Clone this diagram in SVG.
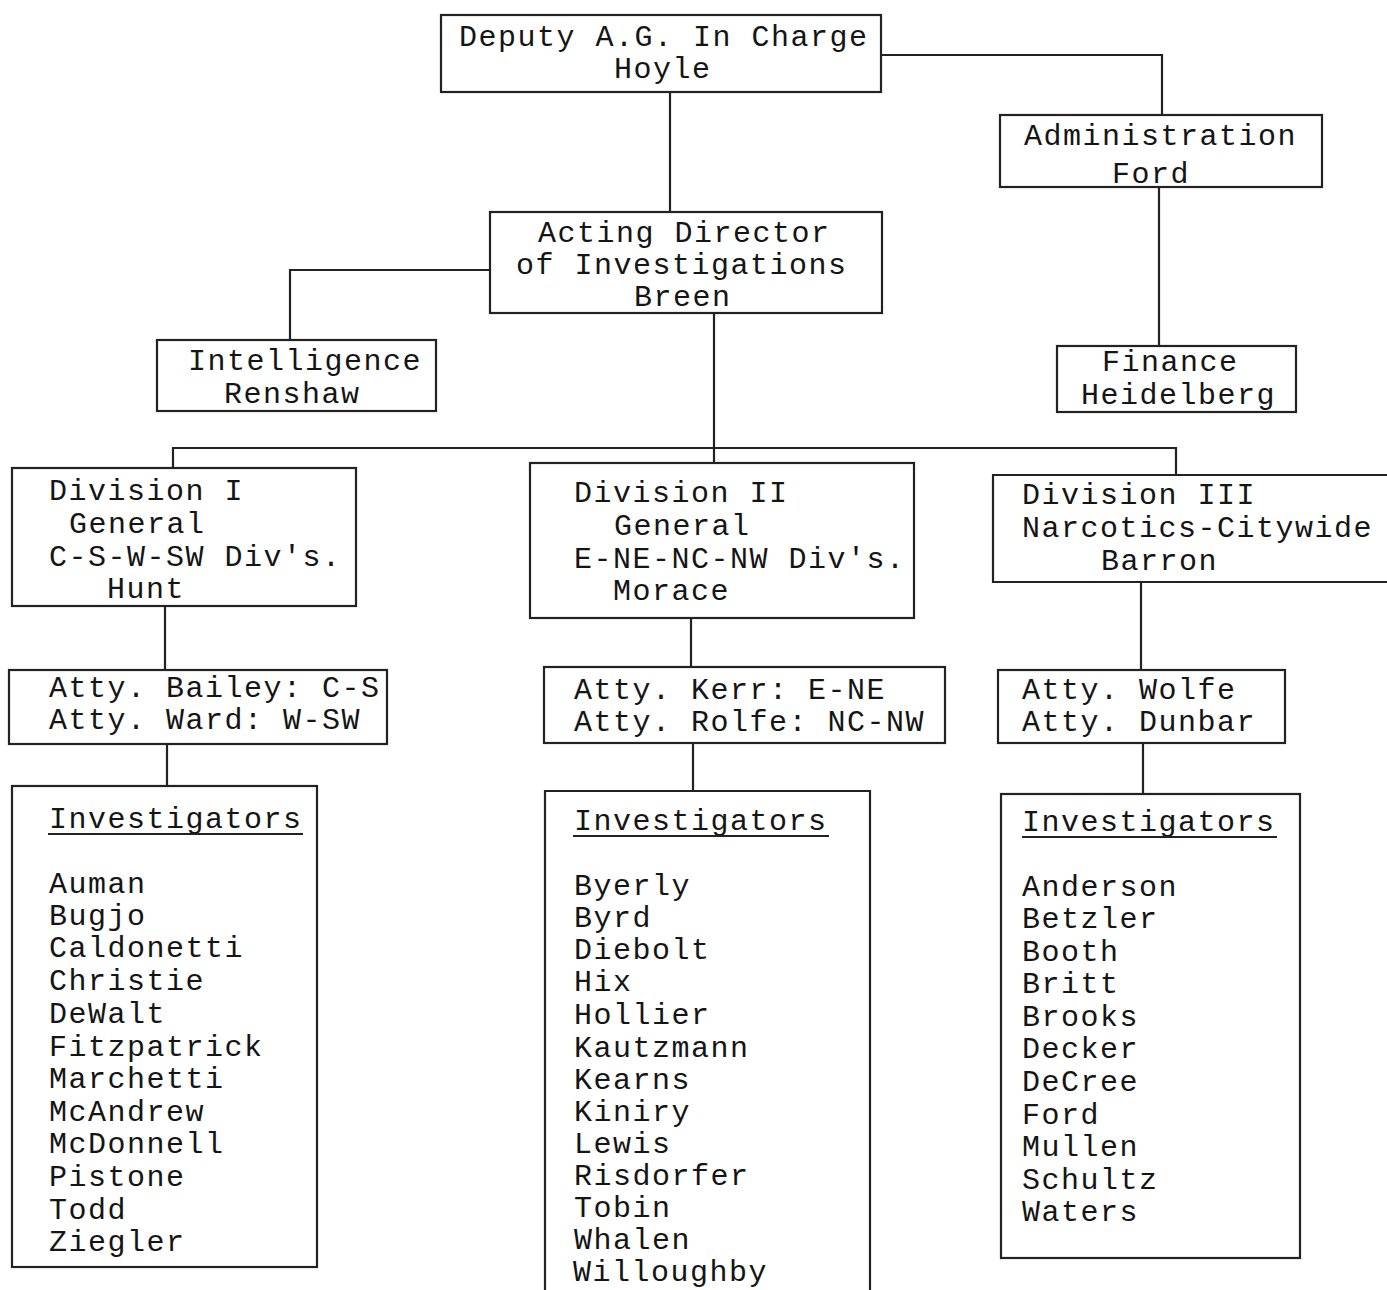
<svg xmlns="http://www.w3.org/2000/svg" width="1387" height="1290" viewBox="0 0 1387 1290">
<style>
  .bg { fill: #ffffff; }
  .box { fill: none; stroke: #222; stroke-width: 2.2; }
  .ln { fill: none; stroke: #222; stroke-width: 2.2; }
  text { font-family: "Liberation Mono", "DejaVu Sans Mono", monospace; font-size: 30px; letter-spacing: 1.5px; fill: #151515; }
</style>
<rect class="bg" x="0" y="0" width="1387" height="1290"/>

<g id="connectors">
  <path class="ln" d="M670 92 V212"/>
  <path class="ln" d="M881 55 H1162 V115"/>
  <path class="ln" d="M1159 187 V346"/>
  <path class="ln" d="M490 270 H290 V340"/>
  <path class="ln" d="M714 313 V463"/>
  <path class="ln" d="M173 468 V448 H1176 V475"/>
  <path class="ln" d="M165 606 V670"/>
  <path class="ln" d="M167 744 V786"/>
  <path class="ln" d="M691 618 V667"/>
  <path class="ln" d="M693 743 V791"/>
  <path class="ln" d="M1141 582 V670"/>
  <path class="ln" d="M1143 743 V794"/>
</g>

<g id="deputy">
  <rect class="box" x="441" y="15" width="440" height="77"/>
  <text x="459" y="46">Deputy A.G. In Charge</text>
  <text x="614" y="78">Hoyle</text>
</g>

<g id="administration">
  <rect class="box" x="1000" y="115" width="322" height="72"/>
  <text x="1024" y="145">Administration</text>
  <text x="1112" y="183">Ford</text>
</g>

<g id="acting-director">
  <rect class="box" x="490" y="212" width="392" height="101"/>
  <text x="538" y="242">Acting Director</text>
  <text x="516" y="274">of Investigations</text>
  <text x="634" y="306">Breen</text>
</g>

<g id="intelligence">
  <rect class="box" x="157" y="340" width="279" height="71"/>
  <text x="188" y="370">Intelligence</text>
  <text x="224" y="403">Renshaw</text>
</g>

<g id="finance">
  <rect class="box" x="1057" y="346" width="239" height="66"/>
  <text x="1102" y="371">Finance</text>
  <text x="1081" y="404">Heidelberg</text>
</g>

<g id="division-1">
  <rect class="box" x="12" y="468" width="344" height="138"/>
  <text x="49" y="500">Division I</text>
  <text x="69" y="533">General</text>
  <text x="49" y="566">C-S-W-SW Div's.</text>
  <text x="107" y="598">Hunt</text>
</g>

<g id="division-2">
  <rect class="box" x="530" y="463" width="384" height="155"/>
  <text x="574" y="502">Division II</text>
  <text x="614" y="535">General</text>
  <text x="574" y="568">E-NE-NC-NW Div's.</text>
  <text x="613" y="600">Morace</text>
</g>

<g id="division-3">
  <path class="box" d="M1387 475 H993 V582 H1387"/>
  <text x="1022" y="504">Division III</text>
  <text x="1022" y="537">Narcotics-Citywide</text>
  <text x="1101" y="570">Barron</text>
</g>

<g id="attorneys-1">
  <rect class="box" x="9" y="670" width="378" height="74"/>
  <text x="49" y="697">Atty. Bailey: C-S</text>
  <text x="49" y="729">Atty. Ward: W-SW</text>
</g>

<g id="attorneys-2">
  <rect class="box" x="544" y="667" width="401" height="76"/>
  <text x="574" y="699">Atty. Kerr: E-NE</text>
  <text x="574" y="731">Atty. Rolfe: NC-NW</text>
</g>

<g id="attorneys-3">
  <rect class="box" x="998" y="670" width="287" height="73"/>
  <text x="1022" y="699">Atty. Wolfe</text>
  <text x="1022" y="731">Atty. Dunbar</text>
</g>

<g id="investigators-1">
  <rect class="box" x="12" y="786" width="305" height="481"/>
  <text x="49" y="828">Investigators</text>
  <path class="ln" d="M48 834 H303"/>
  <text x="49" y="893">Auman</text>
  <text x="49" y="925">Bugjo</text>
  <text x="49" y="957">Caldonetti</text>
  <text x="49" y="990">Christie</text>
  <text x="49" y="1023">DeWalt</text>
  <text x="49" y="1056">Fitzpatrick</text>
  <text x="49" y="1088">Marchetti</text>
  <text x="49" y="1121">McAndrew</text>
  <text x="49" y="1153">McDonnell</text>
  <text x="49" y="1186">Pistone</text>
  <text x="49" y="1219">Todd</text>
  <text x="49" y="1251">Ziegler</text>
</g>

<g id="investigators-2">
  <path class="box" d="M545 1290 V791 H870 V1290"/>
  <text x="574" y="830">Investigators</text>
  <path class="ln" d="M573 836 H829"/>
  <text x="574" y="895">Byerly</text>
  <text x="574" y="927">Byrd</text>
  <text x="574" y="959">Diebolt</text>
  <text x="574" y="991">Hix</text>
  <text x="574" y="1024">Hollier</text>
  <text x="574" y="1057">Kautzmann</text>
  <text x="574" y="1089">Kearns</text>
  <text x="574" y="1121">Kiniry</text>
  <text x="574" y="1153">Lewis</text>
  <text x="574" y="1185">Risdorfer</text>
  <text x="574" y="1217">Tobin</text>
  <text x="574" y="1249">Whalen</text>
  <text x="573" y="1281">Willoughby</text>
</g>

<g id="investigators-3">
  <rect class="box" x="1001" y="794" width="299" height="464"/>
  <text x="1022" y="831">Investigators</text>
  <path class="ln" d="M1022 837 H1277"/>
  <text x="1022" y="896">Anderson</text>
  <text x="1022" y="928">Betzler</text>
  <text x="1022" y="961">Booth</text>
  <text x="1022" y="993">Britt</text>
  <text x="1022" y="1026">Brooks</text>
  <text x="1022" y="1058">Decker</text>
  <text x="1022" y="1091">DeCree</text>
  <text x="1022" y="1124">Ford</text>
  <text x="1022" y="1156">Mullen</text>
  <text x="1022" y="1189">Schultz</text>
  <text x="1022" y="1221">Waters</text>
</g>
</svg>
